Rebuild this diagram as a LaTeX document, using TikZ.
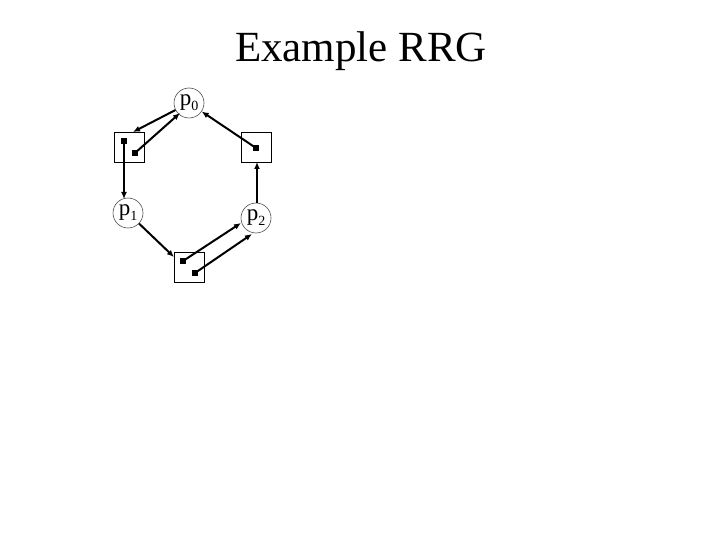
\documentclass[tikz,border=0pt]{standalone}
\usepackage{fontspec}
\setmainfont{Liberation Serif}
\usetikzlibrary{arrows.meta}
\newcommand{\psub}[1]{p\raisebox{-0.45ex}{\fontsize{14}{15}\selectfont #1}}
\begin{document}
\begin{tikzpicture}[x=1pt,y=-1pt,
  proc/.style={circle,draw=black!70,line width=0.6pt,minimum size=30pt,inner sep=0pt,font=\fontsize{23}{25}\selectfont},
  res/.style={draw,line width=0.8pt,minimum size=30pt,inner sep=0pt},
  dot/.style={fill,inner sep=0pt,minimum size=5.5pt},
  edge/.style={line width=2pt,-{Latex[length=7pt,width=6pt]}}]
\useasboundingbox (0,0) rectangle (720,540);
\node[font=\fontsize{43}{48}\selectfont] (title) at (361,51) {Example RRG};
\node[proc] (p0) at (189,103) {\psub{0}};
\node[proc] (p1) at (128,213) {\psub{1}};
\node[proc] (p2) at (256,218) {\psub{2}};
\node[res] (r1) at (129,147) {};
\node[res] (r2) at (256,147) {};
\node[res] (r3) at (189,267) {};
\node[dot] (d1a) at (124,141) {};
\node[dot] (d1b) at (135,153) {};
\node[dot] (d2) at (256,148) {};
\node[dot] (d3a) at (183,261) {};
\node[dot] (d3b) at (195,273) {};
\coordinate (r1top) at (133,132);
\coordinate (p0a) at (180,113);
\coordinate (p1top) at (124,199);
\coordinate (p2top) at (257,203);
\coordinate (r2bot) at (257,162);
\coordinate (r3tl) at (174,257);
\coordinate (p2a) at (241,223);
\coordinate (p2b) at (252,234);
\draw[edge] (p0) -- (r1top);
\draw[edge] (d1b.center) -- (p0a);
\draw[edge] (d2.center) -- (p0);
\draw[edge] (d1a.center) -- (p1top);
\draw[edge] (p2top) -- (r2bot);
\draw[edge] (p1) -- (r3tl);
\draw[edge] (d3a.center) -- (p2a);
\draw[edge] (d3b.center) -- (p2b);
\end{tikzpicture}
\end{document}
